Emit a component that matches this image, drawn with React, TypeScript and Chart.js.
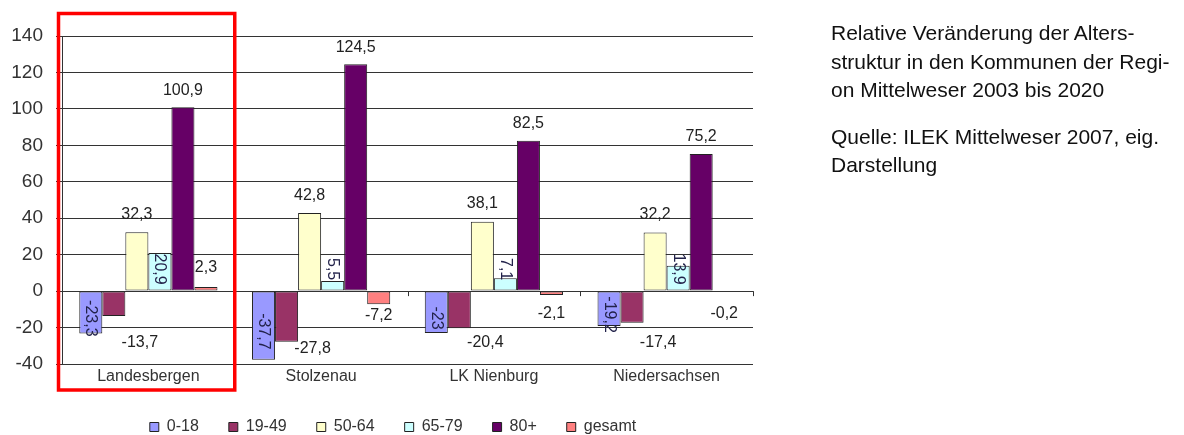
import React, { useEffect, useRef } from 'react';
import { Chart, registerables } from 'chart.js';

Chart.register(...registerables);

const categories = ['Landesbergen', 'Stolzenau', 'LK Nienburg', 'Niedersachsen'];
const seriesNames = ['0-18', '19-49', '50-64', '65-79', '80+', 'gesamt'];
const age0to18 = [-23.3, -37.7, -23, -19.2];
const age19to49 = [-13.7, -27.8, -20.4, -17.4];
const age50to64 = [32.3, 42.8, 38.1, 32.2];
const age65to79 = [20.9, 5.5, 7.1, 13.9];
const age80plus = [100.9, 124.5, 82.5, 75.2];
const gesamt = [2.3, -7.2, -2.1, -0.2];
const yMin = -40;
const yMax = 140;
const yStep = 20;

const seriesValues = [age0to18, age19to49, age50to64, age65to79, age80plus, gesamt];
const seriesColors = ['#9999FF', '#993366', '#FFFFCC', '#CCFFFF', '#660066', '#FF8080'];

const FONT = "'Liberation Sans', Arial, sans-serif";
const fmt = (v: number) => String(v).replace('.', ',');

const valueLabels = {
  id: 'valueLabels',
  afterDatasetsDraw(chart: any) {
    const ctx = chart.ctx;
    const ys = chart.scales.y;
    const zero = ys.getPixelForValue(0);
    ctx.save();
    ctx.fillStyle = '#222';
    chart.data.datasets.forEach((ds: any, di: number) => {
      const meta = chart.getDatasetMeta(di);
      meta.data.forEach((bar: any, i: number) => {
        const v = ds.data[i] as number;
        const t = fmt(v);
        const { x, y } = bar.getProps(['x', 'y', 'base'], true);
        const rotated = (cx: number, cy: number, color: string) => {
          ctx.save();
          ctx.translate(cx, cy);
          ctx.rotate(Math.PI / 2);
          ctx.font = `16px ${FONT}`;
          ctx.fillStyle = color;
          ctx.textAlign = 'center';
          ctx.textBaseline = 'middle';
          ctx.fillText(t, 0, 0);
          ctx.restore();
        };
        const flat = (cx: number, cy: number) => {
          ctx.font = `16px ${FONT}`;
          ctx.fillStyle = '#222';
          ctx.textAlign = 'center';
          ctx.textBaseline = 'middle';
          ctx.fillText(t, cx, cy);
        };
        if (di === 0) {
          rotated(x, (y + zero) / 2 + 6, '#22224a');
        } else if (di === 1) {
          flat(x + 26, Math.max(ys.getPixelForValue(-28.5), y + 7));
        } else if (di === 2) {
          flat(x, y - 18);
        } else if (di === 3) {
          rotated(x, zero - 22, '#22224a');
        } else if (di === 4) {
          flat(x, y - 17);
        } else {
          if (v >= 0) flat(x, y - 19);
          else flat(x, Math.max(y + 11, zero + 22));
        }
      });
    });
    ctx.restore();
  },
};

const decorations = {
  id: 'decorations',
  afterDraw(chart: any) {
    const ctx = chart.ctx;
    const xs = chart.scales.x;
    const ys = chart.scales.y;
    const area = chart.chartArea;
    const zero = ys.getPixelForValue(0);
    const catW = (area.right - area.left) / categories.length;
    ctx.save();
    ctx.strokeStyle = '#333';
    ctx.lineWidth = 1;
    for (let k = 1; k <= categories.length; k++) {
      const px = Math.round(area.left + k * catW) + 0.5;
      ctx.beginPath();
      ctx.moveTo(px, zero);
      ctx.lineTo(px, zero + 5);
      ctx.stroke();
    }
    const cx = xs.getPixelForValue(0);
    const left = cx - catW / 2 - 3.5;
    const right = cx + catW / 2;
    const top = area.top - 22.5;
    const bottom = area.bottom + 26;
    ctx.strokeStyle = '#FF0000';
    ctx.lineWidth = 3.5;
    ctx.strokeRect(left, top, right - left, bottom - top);
    ctx.restore();
  },
};

const legendSpan = {
  id: 'legendSpan',
  afterLayout(chart: any) {
    const lg = chart.legend;
    if (lg) {
      lg.left = 0;
      lg.right = chart.chartArea.right + 33;
      lg.width = lg.right - lg.left;
    }
  },
};

export default function App() {
  const ref = useRef<HTMLCanvasElement | null>(null);

  useEffect(() => {
    if (!ref.current) return;
    const chart = new Chart(ref.current, {
      type: 'bar',
      data: {
        labels: categories,
        datasets: seriesNames.map((name, i) => ({
          label: name,
          data: seriesValues[i],
          backgroundColor: seriesColors[i],
          borderColor: '#222',
          borderWidth: 1,
          borderSkipped: false,
          categoryPercentage: 0.8,
          barPercentage: 1.0,
        })),
      },
      options: {
        responsive: false,
        animation: false,
        events: [],
        layout: { padding: { left: 0, right: 431, top: 36, bottom: 0 } },
        plugins: {
          tooltip: { enabled: false },
          legend: {
            position: 'bottom',
            labels: {
              boxWidth: 9,
              boxHeight: 9,
              padding: 30,
              color: '#333',
              font: { family: FONT, size: 16 },
            },
          },
        },
        scales: {
          x: {
            grid: { display: false, drawTicks: false },
            border: { display: false },
            ticks: { color: '#333', font: { family: FONT, size: 16 }, padding: 3 },
            afterFit: (s: any) => {
              s.height = 25;
            },
          },
          y: {
            min: yMin,
            max: yMax,
            ticks: {
              stepSize: yStep,
              color: '#333',
              padding: 13,
              font: { family: FONT, size: 19 },
            },
            grid: { color: '#333', lineWidth: 1, tickLength: 6 },
            border: { display: true, color: '#333' },
            afterFit: (s: any) => {
              s.width = 62;
            },
          },
        },
      },
      plugins: [valueLabels, decorations, legendSpan],
    });
    return () => chart.destroy();
  }, []);

  return (
    <div
      style={{
        position: 'absolute',
        left: 0,
        top: 0,
        width: 1184,
        height: 435,
        overflow: 'hidden',
        background: '#fff',
      }}
    >
      <canvas ref={ref} width={1184} height={445} style={{ display: 'block', width: 1184, height: 445 }} />
      <div
        style={{
          position: 'absolute',
          left: 831,
          top: 19,
          width: 350,
          fontFamily: FONT,
          fontSize: 21,
          lineHeight: '28.5px',
          color: '#111',
          whiteSpace: 'nowrap',
        }}
      >
        <div>
          Relative Veränderung der Alters-
          <br />
          struktur in den Kommunen der Regi-
          <br />
          on Mittelweser 2003 bis 2020
        </div>
        <div style={{ marginTop: 18 }}>
          Quelle: ILEK Mittelweser 2007, eig.
          <br />
          Darstellung
        </div>
      </div>
    </div>
  );
}
